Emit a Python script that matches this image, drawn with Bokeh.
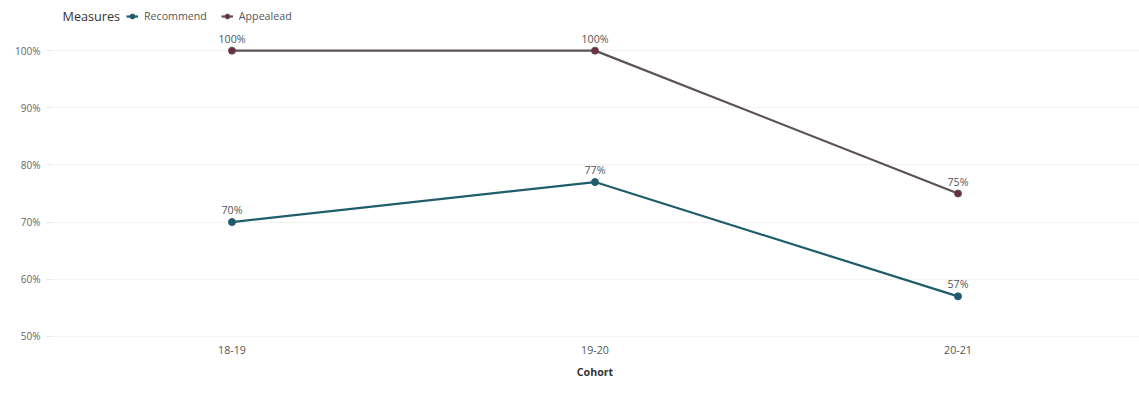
from bokeh.plotting import figure
from bokeh.models import ColumnDataSource, Legend, LegendItem, Range1d, FactorRange, PrintfTickFormatter, FixedTicker, Label
from bokeh.embed import file_html
from bokeh.resources import INLINE
from bokeh.core.properties import value

cohorts = ["18-19", "19-20", "20-21"]
recommend = [70, 77, 57]
appealead = [100, 100, 75]
y_ticks = [50, 60, 70, 80, 90, 100]

FONT = "Open Sans"

Y_TOP = 107.9
Y_BOT = 48.4

p = figure(width=1139, height=407, x_range=FactorRange(*cohorts, range_padding=0),
           y_range=Range1d(Y_BOT, Y_TOP), output_backend="svg", toolbar_location=None,
           min_border_left=50, min_border_right=0, min_border_bottom=62, min_border_top=5)
p.outline_line_color = None
p.background_fill_color = "white"

src_r = ColumnDataSource(dict(x=cohorts, y=recommend, lab=[f"{v}%" for v in recommend]))
src_a = ColumnDataSource(dict(x=cohorts, y=appealead, lab=[f"{v}%" for v in appealead]))

rec_col = "#1f5d6c"
app_line = "#5e5254"
app_mark = "#6e2d40"

lr = p.line("x", "y", source=src_r, line_color=rec_col, line_width=2.2)
sr = p.scatter("x", "y", source=src_r, size=7, fill_color=rec_col, line_color=rec_col)
la = p.line("x", "y", source=src_a, line_color=app_line, line_width=2.2)
sa = p.scatter("x", "y", source=src_a, size=7, fill_color=app_mark, line_color=app_line)

for src in (src_r, src_a):
    p.text("x", "y", text="lab", source=src, text_font=value(FONT), text_font_size="8pt",
           text_color="#555555", text_align="center", text_baseline="bottom", y_offset=-5)

p.yaxis.ticker = FixedTicker(ticks=y_ticks)
p.yaxis.formatter = PrintfTickFormatter(format="%d%%")
p.yaxis.major_label_text_font = FONT
p.yaxis.major_label_text_font_size = "7.5pt"
p.yaxis.major_label_text_color = "#666666"
p.yaxis.axis_line_color = None
p.yaxis.major_tick_line_color = "#e4e4e4"
p.yaxis.major_tick_in = 0
p.yaxis.major_tick_out = 4
p.yaxis.minor_tick_line_color = None
p.yaxis.major_label_standoff = 6

p.xaxis.axis_line_color = None
p.xaxis.major_tick_line_color = None
p.xaxis.major_tick_out = 0
p.xaxis.major_label_text_font = FONT
p.xaxis.major_label_text_font_size = "8pt"
p.xaxis.major_label_text_color = "#555555"
p.xaxis.axis_label = "Cohort"
p.xaxis.axis_label_text_font = FONT
p.xaxis.axis_label_text_font_size = "8pt"
p.xaxis.axis_label_text_font_style = "bold"
p.xaxis.axis_label_text_color = "#333333"
p.xaxis.axis_label_standoff = 8
p.xaxis.major_label_standoff = 0

p.xgrid.grid_line_color = None
p.ygrid.grid_line_color = "#f3f3f3"
p.ygrid.ticker = FixedTicker(ticks=y_ticks)

legend = Legend(items=[LegendItem(label="Recommend", renderers=[lr, sr]),
                       LegendItem(label="Appealead", renderers=[la, sa])],
                orientation="horizontal", location=(76, 322))
legend.label_text_font = FONT
legend.label_text_font_size = "8pt"
legend.label_text_color = "#555555"
legend.glyph_width = 12
legend.glyph_height = 14
legend.spacing = 14
legend.label_standoff = 6
legend.border_line_color = None
legend.background_fill_alpha = 0
legend.padding = 0
legend.margin = 0
p.add_layout(legend, "center")

title_lab = Label(x=0, y=Y_TOP - 11 / 5.72, x_offset=12, text="Measures",
                  text_font=FONT, text_font_size="9.5pt", text_color="#333333",
                  text_baseline="middle")
p.add_layout(title_lab)

open("out.html", "w").write(file_html(p, INLINE))
